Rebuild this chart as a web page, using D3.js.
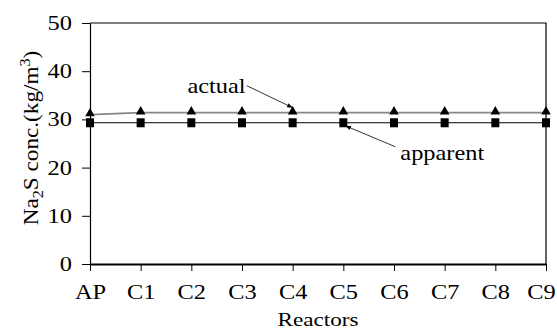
<!DOCTYPE html>
<html>
<head>
<meta charset="utf-8">
<script src="https://cdn.jsdelivr.net/npm/d3@7"></script>
<style>
  body { margin: 0; background: #fff; }
</style>
</head>
<body>
<svg width="557" height="329"></svg>
<script>
const reactors = ["AP", "C1", "C2", "C3", "C4", "C5", "C6", "C7", "C8", "C9"];
const actual = [31.0, 31.4, 31.4, 31.4, 31.4, 31.4, 31.4, 31.4, 31.4, 31.4];
const apparent = [29.3, 29.3, 29.3, 29.3, 29.3, 29.3, 29.3, 29.3, 29.3, 29.3];
const yTicks = [0, 10, 20, 30, 40, 50];

const serif = "Liberation Serif";
const wide = 1.22; // the original type is set a bit wider than Times

let svg = d3.select("svg").attr("font-family", serif),
    margin = { top: 23, right: 11, bottom: 65, left: 90 },
    width = +svg.attr("width") - margin.left - margin.right,
    height = +svg.attr("height") - margin.top - margin.bottom;

// stretch text horizontally, keeping its anchor x
const stretch = (sel) => {
  sel.each(function () {
    const t = d3.select(this);
    const x0 = +t.attr("x") || 0;
    t.attr("x", x0 / wide).attr("transform", `scale(${wide},1)`);
  });
};

const x = d3.scalePoint().domain(reactors).range([0, width]);
const y = d3.scaleLinear().domain([0, 50]).range([height, 0]);

const g = svg.append("g").attr("transform", `translate(${margin.left},${margin.top})`);

// frame top + right
g.append("path")
  .attr("d", `M0,0H${width}V${height}`)
  .attr("fill", "none").attr("stroke", "#000").attr("stroke-width", 1.2);

const yAxis = g.append("g")
  .call(d3.axisLeft(y).tickValues(yTicks).tickSize(8).tickPadding(10).tickSizeOuter(0));
yAxis.attr("font-family", serif).attr("font-size", 20);
yAxis.selectAll("text").attr("fill", "#000").call(stretch);
yAxis.select(".domain").attr("stroke-width", 1.2);

const xAxis = g.append("g")
  .attr("transform", `translate(0,${height})`)
  .call(d3.axisBottom(x).tickSize(7).tickPadding(14).tickSizeOuter(0));
xAxis.attr("font-family", serif).attr("font-size", 20);
xAxis.selectAll("text").attr("fill", "#000")
  .attr("x", d => d === "C9" ? -5 : 0)
  .call(stretch);
xAxis.select(".domain").attr("stroke-width", 1.8);

const line = d3.line().x((d, i) => x(reactors[i])).y(d => y(d));

g.append("path").datum(actual)
  .attr("d", line).attr("fill", "none").attr("stroke", "#888").attr("stroke-width", 1.6);
g.append("path").datum(apparent)
  .attr("d", line).attr("fill", "none").attr("stroke", "#000").attr("stroke-width", 1.1);

g.selectAll(".sq").data(apparent).enter().append("rect")
  .attr("x", (d, i) => x(reactors[i]) - 4)
  .attr("y", d => y(d) - 4.5)
  .attr("width", 8).attr("height", 9)
  .attr("fill", "#000");

const tri = d3.symbol().type(d3.symbolTriangle).size(40);
g.selectAll(".tri").data(actual).enter().append("path")
  .attr("d", tri)
  .attr("transform", (d, i) => `translate(${x(reactors[i])},${y(d) - 1})`)
  .attr("fill", "#000");

// annotations
svg.append("defs").append("marker")
  .attr("id", "ah").attr("viewBox", "0 0 10 10")
  .attr("refX", 10).attr("refY", 5)
  .attr("markerWidth", 7).attr("markerHeight", 7)
  .attr("orient", "auto")
  .append("path").attr("d", "M0,1L10,5L0,9Z").attr("fill", "#000");

const ax = x("C4"), ay = y(actual[4]);
g.append("line")
  .attr("x1", ax - 46).attr("y1", ay - 27)
  .attr("x2", ax).attr("y2", ay - 5)
  .attr("stroke", "#000").attr("stroke-width", 0.8).attr("marker-end", "url(#ah)");
g.append("text").attr("x", ax - 47).attr("y", ay - 20)
  .attr("text-anchor", "end").attr("font-size", 20).text("actual")
  .call(stretch);

const px = x("C5"), py = y(apparent[5]);
g.append("line")
  .attr("x1", px + 52).attr("y1", py + 24)
  .attr("x2", px + 2).attr("y2", py + 3)
  .attr("stroke", "#000").attr("stroke-width", 0.8).attr("marker-end", "url(#ah)");
g.append("text").attr("x", px + 57).attr("y", py + 37)
  .attr("font-size", 20).text("apparent")
  .call(stretch);

// axis titles
svg.append("text")
  .attr("x", margin.left + width / 2).attr("y", 326)
  .attr("text-anchor", "middle").attr("font-size", 19).text("Reactors")
  .call(stretch);

const yt = svg.append("text")
  .attr("transform", `translate(38,138) rotate(-90) scale(1.16,1)`)
  .attr("text-anchor", "middle").attr("font-size", 20);
yt.append("tspan").text("Na");
yt.append("tspan").attr("dy", 5).attr("font-size", 14).text("2");
yt.append("tspan").attr("dy", -5).text("S conc.(kg/m");
yt.append("tspan").attr("dy", -8).attr("font-size", 14).text("3");
yt.append("tspan").attr("dy", 8).text(")");
</script>
</body>
</html>
